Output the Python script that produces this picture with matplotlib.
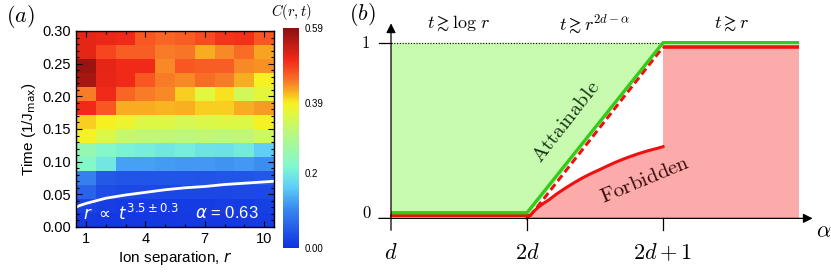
import numpy as np
import matplotlib
matplotlib.use("Agg")
import matplotlib.pyplot as plt
from matplotlib.colors import LinearSegmentedColormap
from matplotlib.ticker import MultipleLocator

# ---------------- panel (a): correlation C(r, t) ----------------
separations = np.arange(1, 11)
t_max = 0.30
# rows = time bins from t=0 (bottom) to t=0.30 (top), columns = r = 1..10
corr = np.array([
    [0.012, 0.010, 0.010, 0.010, 0.010, 0.012, 0.010, 0.010, 0.012, 0.014],
    [0.025, 0.018, 0.016, 0.016, 0.016, 0.016, 0.016, 0.018, 0.016, 0.020],
    [0.060, 0.035, 0.030, 0.030, 0.028, 0.028, 0.028, 0.028, 0.030, 0.032],
    [0.095, 0.050, 0.045, 0.045, 0.045, 0.045, 0.042, 0.045, 0.045, 0.048],
    [0.225, 0.195, 0.125, 0.125, 0.120, 0.118, 0.118, 0.115, 0.118, 0.110],
    [0.250, 0.225, 0.210, 0.205, 0.195, 0.205, 0.190, 0.188, 0.200, 0.165],
    [0.385, 0.355, 0.325, 0.318, 0.318, 0.312, 0.318, 0.315, 0.318, 0.335],
    [0.405, 0.389, 0.375, 0.355, 0.355, 0.345, 0.352, 0.355, 0.355, 0.385],
    [0.507, 0.470, 0.420, 0.420, 0.415, 0.418, 0.405, 0.405, 0.420, 0.430],
    [0.445, 0.505, 0.460, 0.445, 0.440, 0.405, 0.360, 0.395, 0.340, 0.365],
    [0.566, 0.512, 0.505, 0.470, 0.445, 0.440, 0.455, 0.445, 0.420, 0.385],
    [0.575, 0.515, 0.505, 0.505, 0.440, 0.470, 0.465, 0.465, 0.440, 0.435],
    [0.515, 0.480, 0.465, 0.465, 0.445, 0.450, 0.420, 0.440, 0.455, 0.425],
    [0.515, 0.510, 0.505, 0.470, 0.460, 0.465, 0.475, 0.495, 0.500, 0.470],
])
# light-cone fit r ~ t^3.5 (white curve)
fit_r = [0.5, 0.7, 1, 1.5, 2, 3, 4, 5, 6, 7, 8, 9, 10, 10.5]
fit_t = [0.030, 0.033, 0.036, 0.040, 0.044, 0.049, 0.053, 0.057, 0.060,
         0.062, 0.065, 0.067, 0.069, 0.070]
cbar_ticks = [0.0, 0.2, 0.39, 0.59]
cbar_labels = ["0.00", "0.2", "0.39", "0.59"]
vmax = 0.59

# ---------------- panel (b): schematic ----------------
b_xticks = [0, 1, 2]
b_xticklabels = ["$d$", "$2d$", "$2d+1$"]
attain_x = [0, 1, 2, 3]
attain_y = [0.032, 0.032, 1.0, 1.0]
forbid_low_x = [0, 1]
forbid_low_y = [0.017, 0.017]
forbid_diag_x = [1.02, 2.0]
forbid_diag_y = [0.01, 0.975]
forbid_top_x = [2, 3]
forbid_top_y = [0.975, 0.975]
curve_x = [1.0, 1.02, 1.05, 1.083, 1.12, 1.16, 1.22, 1.28, 1.34, 1.40, 1.46,
           1.53, 1.59, 1.65, 1.71, 1.77, 1.83, 1.89, 1.95, 2.0]
curve_y = [0.0, 0.015, 0.040, 0.063, 0.085, 0.105, 0.140, 0.171, 0.200, 0.227,
           0.251, 0.276, 0.298, 0.319, 0.338, 0.355, 0.371, 0.385, 0.397, 0.408]
regimes = [r"$t \gtrsim \log\, r$", r"$t \gtrsim r^{2d-\alpha}$", r"$t \gtrsim r$"]

cmap = LinearSegmentedColormap.from_list("corr", [
    (0.00, "#1030e0"), (0.18, "#3a8af0"), (0.28, "#60d0f8"), (0.37, "#80f8d0"),
    (0.52, "#b8f880"), (0.61, "#e0f840"), (0.66, "#f8f020"), (0.71, "#f8b020"),
    (0.76, "#f87828"), (0.81, "#f84a20"), (0.86, "#f02818"), (1.00, "#8a1010"),
])

plt.rcParams["font.family"] = ["Liberation Sans", "DejaVu Sans"]
W, H = 831, 273
fig = plt.figure(figsize=(W / 100, H / 100), dpi=100)

ax = fig.add_axes([76 / W, 1 - 227 / H, 198 / W, 196 / H])
x_edges = np.arange(0.5, 11.0)
t_edges = np.linspace(0, t_max, corr.shape[0] + 1)
mesh = ax.pcolormesh(x_edges, t_edges, corr, cmap=cmap, vmin=0, vmax=vmax)
ax.plot(fit_r, fit_t, color="white", lw=2)
ax.set_xlim(0.5, 10.5)
ax.set_ylim(0, t_max)
ax.set_xticks([1, 4, 7, 10])
ax.xaxis.set_minor_locator(MultipleLocator(1))
ax.yaxis.set_major_locator(MultipleLocator(0.05))
ax.yaxis.set_minor_locator(MultipleLocator(0.01))
ax.yaxis.set_major_formatter(plt.FormatStrFormatter("%.2f"))
ax.tick_params(which="both", direction="in", top=True, right=True, labelsize=10.5, width=0.8)
ax.tick_params(which="major", length=4)
ax.tick_params(which="minor", length=2.5)
for s in ax.spines.values():
    s.set_linewidth(1.0)
ax.set_xlabel("Ion separation, $r$", fontsize=11, labelpad=2)
ax.set_ylabel("Time (1/J$_{\\mathrm{max}}$)", fontsize=11, labelpad=3)
ax.xaxis.label.set_math_fontfamily("dejavusans")
ax.yaxis.label.set_math_fontfamily("dejavusans")
ax.text(3.3, 0.022, r"$r\ \propto\ t^{\mathrm{3.5\pm0.3}}$", color="white", fontsize=12,
        ha="center", va="center", math_fontfamily="dejavusans")
ax.text(8.1, 0.022, r"$\alpha$ = 0.63", color="white", fontsize=12,
        ha="center", va="center", math_fontfamily="dejavusans")
fig.text(20 / W, 1 - 17 / H, "$(a)$", fontsize=16, ha="center", va="center",
         math_fontfamily="cm")

cax = fig.add_axes([283 / W, 1 - 248 / H, 16 / W, 220 / H])
cb = fig.colorbar(mesh, cax=cax, ticks=cbar_ticks)
cb.ax.set_yticklabels(cbar_labels)
cb.ax.tick_params(length=0, labelsize=7, pad=4)
cb.outline.set_visible(False)
fig.text(291 / W, 1 - 12 / H, "$C(r,t)$", fontsize=10.5, ha="center", va="center",
         math_fontfamily="cm")

# ---------------- panel (b) ----------------
bx = fig.add_axes([340 / W, 0, 491 / W, 1])
bx.set_xlim(-0.375, 3.235)
bx.set_ylim(-0.311, 1.243)
bx.axis("off")

# regions
bx.fill([attain_x[0], attain_x[1], attain_x[2], attain_x[0]],
        [0, 0, attain_y[2], attain_y[2]], color="#c8fbb0", lw=0, zorder=1)
bx.fill_between(curve_x, 0, curve_y, color="#fcabab", lw=0, zorder=1)
bx.fill_between(forbid_top_x, 0, forbid_top_y, color="#fcabab", lw=0, zorder=1)

# boundaries
bx.plot([attain_x[0], attain_x[2]], [attain_y[2], attain_y[2]], color="black",
        lw=0.8, ls=(0, (1, 1.5)), zorder=2)
bx.plot(forbid_diag_x, forbid_diag_y, color="white", lw=2.6, zorder=3)
bx.plot(forbid_diag_x, forbid_diag_y, color="#f01010", lw=2.2, ls=(0, (2.4, 1.3)),
        zorder=4)
bx.plot(forbid_low_x, forbid_low_y, color="#f01010", lw=2.2, zorder=4)
bx.plot(forbid_top_x, forbid_top_y, color="#f01010", lw=2.6, zorder=4,
        solid_capstyle="butt")
bx.plot(curve_x, curve_y, color="#f01010", lw=2.2, zorder=4,
        solid_joinstyle="round")
bx.plot(attain_x, attain_y, color="#33cc1a", lw=2.4, zorder=5,
        solid_capstyle="butt")

# axes with arrows
bx.annotate("", xy=(3.1, 0), xytext=(-0.09, 0),
            arrowprops=dict(arrowstyle="-|>", lw=0.9, color="black",
                            mutation_scale=14, shrinkA=0, shrinkB=0), zorder=6)
bx.annotate("", xy=(0, 1.11), xytext=(0, -0.068),
            arrowprops=dict(arrowstyle="-|>", lw=0.9, color="black",
                            mutation_scale=14, shrinkA=0, shrinkB=0), zorder=6)
for xt in b_xticks[1:]:
    bx.plot([xt, xt], [0, -0.068], color="black", lw=0.9, zorder=6)
bx.plot([-0.09, 0], [1, 1], color="black", lw=0.9, zorder=6)

for xt, lab in zip(b_xticks, b_xticklabels):
    bx.text(xt, -0.2, lab, fontsize=16, ha="center", va="center", math_fontfamily="cm")
bx.text(-0.18, 0.03, "$0$", fontsize=12, ha="center", va="center", math_fontfamily="cm")
bx.text(-0.19, 1.0, "$1$", fontsize=12, ha="center", va="center", math_fontfamily="cm")
bx.text(3.18, -0.075, r"$\alpha$", fontsize=16, ha="center", va="center",
        math_fontfamily="cm")
bx.text(-0.21, 1.16, "$(b)$", fontsize=16, ha="center", va="center",
        math_fontfamily="cm")

for i, lab in enumerate(regimes):
    bx.text(i + 0.5, 1.11, lab, fontsize=13, ha="center", va="center",
            math_fontfamily="cm")

bx.text(1.29, 0.55, r"$\mathrm{Attainable}$", fontsize=15, rotation=52,
        rotation_mode="anchor", ha="center", va="center", color="#143214",
        math_fontfamily="cm", zorder=7)
bx.text(1.87, 0.22, r"$\mathrm{Forbidden}$", fontsize=15, rotation=22.5,
        rotation_mode="anchor", ha="center", va="center", color="#380808",
        math_fontfamily="cm", zorder=7)

fig.savefig("out.png", dpi=100)
